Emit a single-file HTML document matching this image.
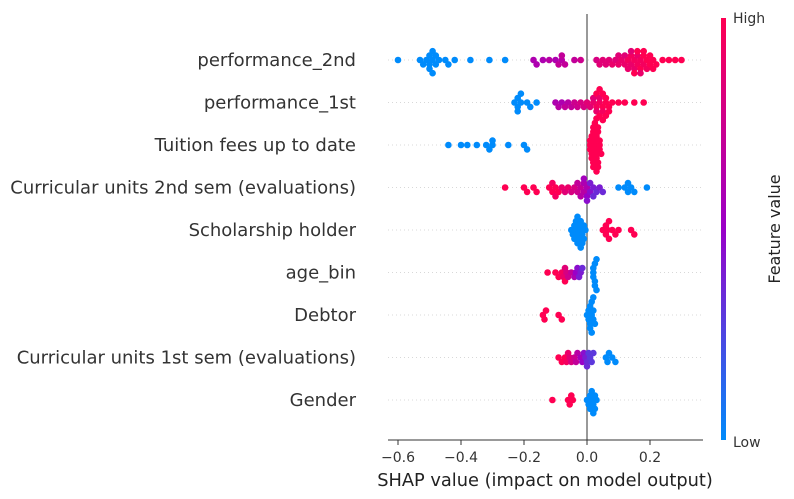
<!DOCTYPE html>
<html><head><meta charset="utf-8"><style>
html,body{margin:0;padding:0;background:#fff;}
svg{display:block;font-family:"DejaVu Sans","Liberation Sans",sans-serif;}
</style></head><body>
<svg id="chart" width="794" height="499" viewBox="0 0 794 499">
<defs><linearGradient id="cb" x1="0" y1="1" x2="0" y2="0">
<stop offset="0" stop-color="#008bfb"/><stop offset="0.5" stop-color="#9a00c8"/><stop offset="1" stop-color="#ff0052"/></linearGradient></defs>
<g id="grid"></g>
<line x1="587" y1="14" x2="587" y2="440" stroke="#999" stroke-width="2"/>
<g id="dots"></g>
<g id="labels"></g>
<line x1="388" y1="440" x2="703" y2="440" stroke="#333" stroke-width="1"/>
<g id="ticks"></g>
<text x="545" y="486" font-size="17.8" text-anchor="middle" fill="#222">SHAP value (impact on model output)</text>
<rect x="721" y="18" width="5" height="422" fill="url(#cb)"/>
<text x="733" y="23" font-size="14" fill="#333">High</text>
<text x="733" y="447" font-size="14" fill="#333">Low</text>
<text x="780" y="229" font-size="16" fill="#222" text-anchor="middle" transform="rotate(-90 780 229)">Feature value</text>
</svg>
<script>
const features = ["performance_2nd","performance_1st","Tuition fees up to date","Curricular units 2nd sem (evaluations)","Scholarship holder","age_bin","Debtor","Curricular units 1st sem (evaluations)","Gender"];
const tickValues = [-0.6,-0.4,-0.2,0.0,0.2];
const tickLabels = ["\u22120.6","\u22120.4","\u22120.2","0.0","0.2"];
const shapValues = [
 [-0.6,-0.53,-0.52,-0.51,-0.5,-0.5,-0.5,-0.49,-0.49,-0.49,-0.48,-0.48,-0.47,-0.45,-0.44,-0.42,-0.37,-0.31,-0.26,-0.17,-0.16,-0.14,-0.12,-0.1,-0.09,-0.08,-0.08,-0.07,-0.04,-0.02,0.03,0.04,0.05,0.06,0.07,0.08,0.09,0.1,0.1,0.11,0.12,0.12,0.13,0.13,0.14,0.14,0.14,0.15,0.15,0.15,0.16,0.16,0.16,0.17,0.17,0.17,0.18,0.18,0.18,0.19,0.19,0.2,0.2,0.21,0.21,0.22,0.24,0.26,0.28,0.3],
 [-0.23,-0.22,-0.22,-0.22,-0.21,-0.21,-0.19,-0.18,-0.16,-0.1,-0.09,-0.08,-0.07,-0.06,-0.05,-0.04,-0.03,-0.02,-0.01,0.0,0.01,0.02,0.02,0.03,0.03,0.03,0.04,0.04,0.04,0.04,0.05,0.05,0.05,0.05,0.06,0.06,0.06,0.07,0.07,0.08,0.1,0.12,0.15,0.18],
 [-0.44,-0.4,-0.38,-0.35,-0.32,-0.31,-0.3,-0.3,-0.25,-0.2,-0.19,0.01,0.01,0.01,0.015,0.015,0.015,0.02,0.02,0.02,0.02,0.025,0.025,0.025,0.025,0.03,0.03,0.03,0.03,0.03,0.035,0.035,0.035,0.035,0.04,0.04,0.04,0.045],
 [-0.26,-0.2,-0.19,-0.17,-0.16,-0.12,-0.11,-0.11,-0.1,-0.1,-0.09,-0.08,-0.07,-0.06,-0.05,-0.04,-0.03,-0.03,-0.02,-0.02,-0.01,-0.01,-0.01,0.0,0.0,0.0,0.01,0.01,0.02,0.02,0.03,0.04,0.05,0.1,0.12,0.13,0.13,0.14,0.15,0.19],
 [-0.05,-0.045,-0.04,-0.04,-0.035,-0.035,-0.03,-0.03,-0.03,-0.025,-0.025,-0.02,-0.02,-0.02,-0.015,-0.015,-0.01,-0.01,-0.005,0.05,0.06,0.06,0.065,0.07,0.07,0.08,0.09,0.1,0.14,0.15],
 [-0.125,-0.1,-0.09,-0.08,-0.075,-0.07,-0.07,-0.065,-0.06,-0.05,-0.04,-0.035,-0.03,-0.025,-0.02,-0.015,0.02,0.02,0.02,0.025,0.025,0.025,0.03,0.03],
 [-0.14,-0.135,-0.13,-0.09,-0.08,0.0,0.005,0.005,0.01,0.01,0.01,0.015,0.015,0.015,0.02,0.02,0.02,0.025],
 [-0.09,-0.08,-0.07,-0.065,-0.06,-0.055,-0.05,-0.04,-0.035,-0.03,-0.02,-0.015,-0.01,-0.005,0.0,0.0,0.005,0.01,0.015,0.02,0.06,0.065,0.07,0.08,0.09],
 [-0.11,-0.06,-0.055,-0.05,-0.045,0.0,0.005,0.01,0.01,0.015,0.015,0.02,0.02,0.025,0.025,0.03]
];
const featureValues = [
 [0,0,0,0,0,0,0,0,0,0,0,0,0,0,0,0,0,0,0,0.6,0.6,0.6,0.65,0.6,0.7,0.65,0.7,0.7,0.7,0.75,0.8,0.85,0.85,0.85,0.85,0.9,0.85,0.9,0.85,0.9,0.9,0.85,0.95,0.9,0.9,0.95,0.85,0.95,0.9,1,0.95,0.9,1,0.95,1,0.9,0.95,1,1,1,0.95,1,1,1,1,1,1,1,1,1],
 [0,0,0,0,0,0,0,0,0,0.6,0.65,0.6,0.7,0.65,0.7,0.75,0.75,0.8,0.8,0.85,0.85,0.9,0.85,0.95,0.9,1,0.95,0.9,1,1,1,0.95,1,1,1,1,1,1,1,1,1,1,1,1],
 [0,0,0,0,0,0,0,0,0,0,0,1,1,1,1,1,1,1,1,1,1,1,1,1,1,1,1,1,1,1,1,1,1,1,1,1,1,1],
 [1,1,1,1,1,1,1,0.95,1,0.95,1,0.9,0.85,0.9,0.8,0.8,0.75,0.7,0.7,0.65,0.65,0.6,0.55,0.6,0.5,0.45,0.45,0.4,0.4,0.35,0.35,0.4,0.35,0,0,0,0,0,0,0],
 [0,0,0,0,0,0,0,0,0,0,0,0,0,0,0,0,0,0,0,1,1,1,1,1,1,1,1,1,1,1],
 [1,1,1,0.95,0.9,0.85,1,0.8,0.75,0.7,0.6,0.5,0.45,0.4,0.4,0.35,0,0,0,0,0,0,0,0],
 [1,1,1,1,1,0,0,0,0,0,0,0,0,0,0,0,0,0],
 [1,1,1,0.95,0.9,0.85,0.8,0.75,0.7,0.65,0.55,0.5,0.45,0.4,0.35,0.35,0.3,0.3,0.3,0.3,0,0,0,0,0],
 [1,1,1,1,1,0,0,0,0,0,0,0,0,0,0,0]
];
const X0 = 587, XS = 315, Y0 = 60, YS = 42.5;
const xs = v => X0 + v * XS;
const yRow = i => Y0 + i * YS;
const NS = "http://www.w3.org/2000/svg";
function col(t){
  const a=[0,139,251], m=[154,0,200], b=[255,0,82];
  let c;
  if(t<0.5){const k=t/0.5;c=a.map((v,i)=>Math.round(v+(m[i]-v)*k));}
  else{const k=(t-0.5)/0.5;c=m.map((v,i)=>Math.round(v+(b[i]-v)*k));}
  return `rgb(${c[0]},${c[1]},${c[2]})`;
}
const grid=document.getElementById('grid'), dots=document.getElementById('dots'), labels=document.getElementById('labels'), ticks=document.getElementById('ticks');
features.forEach((f,i)=>{
  const y=yRow(i);
  const g=document.createElementNS(NS,'line');
  g.setAttribute('x1',388);g.setAttribute('x2',703);g.setAttribute('y1',y);g.setAttribute('y2',y);
  g.setAttribute('stroke','#ccc');g.setAttribute('stroke-dasharray','1,3');g.setAttribute('stroke-width','0.8');
  
  
  grid.appendChild(g);
  const t=document.createElementNS(NS,'text');
  t.setAttribute('x',356);t.setAttribute('y',y+6);t.setAttribute('text-anchor','end');
  t.setAttribute('font-size','18');t.setAttribute('fill','#333');
  t.textContent=f;
  
  
  labels.appendChild(t);
  const vals=shapValues[i], fv=featureValues[i];
  const placed=[];
  const idx=vals.map((v,k)=>k).sort((a,b)=>vals[a]-vals[b]);
  idx.forEach(k=>{
    const px=xs(vals[k]);
    let off=0;
    for(let s=0;s<60;s++){
      const cand = s===0?0:(s%2?1:-1)*Math.ceil(s/2)*2.2;
      if(placed.every(p=>Math.hypot(p[0]-px,p[1]-cand)>=4.0)){off=cand;break;}
    }
    placed.push([px,off]);
    const c=document.createElementNS(NS,'circle');
    c.setAttribute('cx',px.toFixed(1));c.setAttribute('cy',(y+off).toFixed(1));c.setAttribute('r','3.3');
    c.setAttribute('fill',col(fv[k]));
    
    
    dots.appendChild(c);
  });
});
tickValues.forEach((v,i)=>{
  const x=xs(v);
  const l=document.createElementNS(NS,'line');
  l.setAttribute('x1',x);l.setAttribute('x2',x);l.setAttribute('y1',440);l.setAttribute('y2',445);l.setAttribute('stroke','#333');
  
  
  ticks.appendChild(l);
  const t=document.createElementNS(NS,'text');
  t.setAttribute('x',x);t.setAttribute('y',462);t.setAttribute('text-anchor','middle');
  t.setAttribute('font-size','14');t.setAttribute('fill','#333');
  t.textContent=tickLabels[i];
  
  
  ticks.appendChild(t);
});
</script>
</body></html>
